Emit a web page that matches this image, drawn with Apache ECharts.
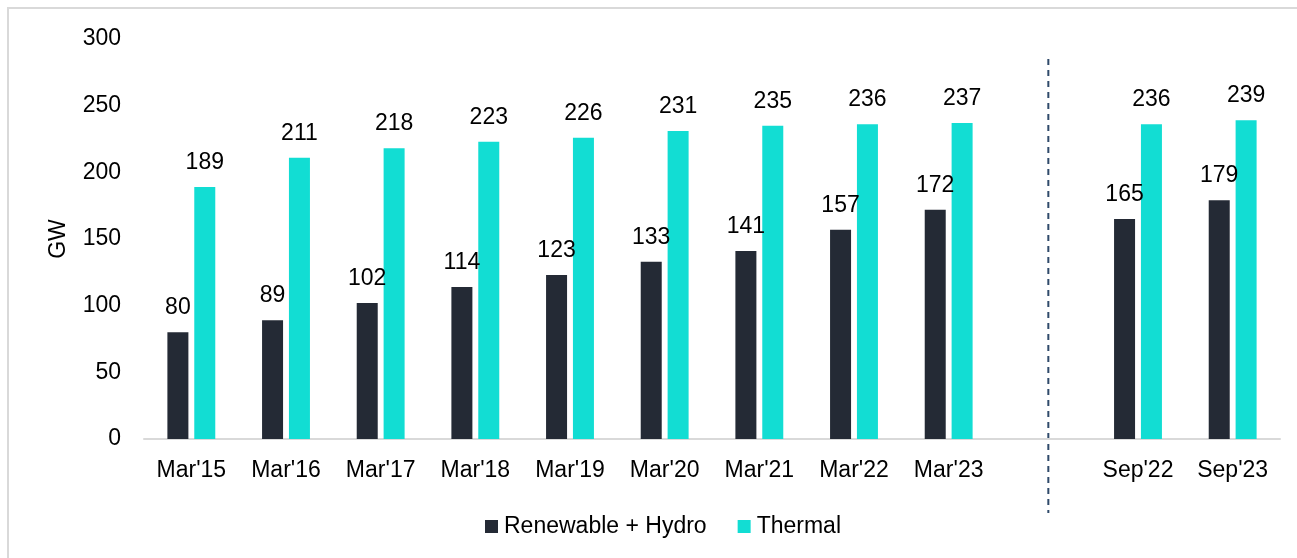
<!DOCTYPE html>
<html>
<head>
<meta charset="utf-8">
<script src="https://cdn.jsdelivr.net/npm/echarts@6/dist/echarts.min.js"></script>
<style>
html,body{margin:0;padding:0;background:#fff;}
#chart{width:1297px;height:558px;}
</style>
</head>
<body>
<div id="chart"></div>
<script>
const categories = ["Mar'15","Mar'16","Mar'17","Mar'18","Mar'19","Mar'20","Mar'21","Mar'22","Mar'23","","Sep'22","Sep'23"];
const renewableHydro = [80,89,102,114,123,133,141,157,172,null,165,179];
const thermal = [189,211,218,223,226,231,235,236,237,null,236,239];
const seriesNames = ["Renewable + Hydro","Thermal"];
const yTicks = {min:0,max:300,interval:50};
const separatorIndex = 9;

const FONT = "'Liberation Sans', Arial, sans-serif";
const chart = echarts.init(document.getElementById('chart'));
const labelCfg = {show:true, position:'top', distance:13, color:'#000', fontSize:23, fontFamily:FONT};

chart.setOption({
  animation:false,
  backgroundColor:'#fff',
  textStyle:{fontFamily:FONT},
  grid:{left:144,right:17,top:39,bottom:119},
  legend:{
    left:480, top:510, icon:'rect', itemWidth:13, itemHeight:13, itemGap:31,
    textStyle:{fontSize:23,color:'#000',fontFamily:FONT,padding:[0,0,0,1]},
    data:seriesNames
  },
  xAxis:{
    type:'category', data:categories,
    axisLine:{show:true,lineStyle:{color:'#d9d9d9',width:2}},
    axisTick:{show:false},
    axisLabel:{color:'#000',fontSize:23,fontFamily:FONT,margin:20,interval:0}
  },
  yAxis:{
    type:'value', min:yTicks.min, max:yTicks.max, interval:yTicks.interval,
    name:'GW', nameLocation:'middle', nameGap:74,
    nameTextStyle:{fontSize:23,color:'#000',fontFamily:FONT},
    axisLine:{show:false}, axisTick:{show:false}, splitLine:{show:false},
    axisLabel:{color:'#000',fontSize:23,fontFamily:FONT,margin:23}
  },
  series:[
    {name:seriesNames[0], type:'bar', data:renewableHydro, barWidth:21, barGap:'28%',
     itemStyle:{color:'#242a35'}, label:labelCfg},
    {name:seriesNames[1], type:'bar', data:thermal, barWidth:21, barGap:'28%',
     itemStyle:{color:'#12ddd3'}, label:labelCfg}
  ]
});

const sepX = chart.convertToPixel({xAxisIndex:0}, separatorIndex) + 5;
const topY = chart.convertToPixel({yAxisIndex:0}, 285);
const axisY = chart.convertToPixel({yAxisIndex:0}, 0);
chart.setOption({
  graphic:[
    {type:'rect', shape:{x:8,y:8,width:1310,height:600}, style:{fill:'none',stroke:'#d9d9d9',lineWidth:2}, silent:true},
    {type:'line', shape:{x1:sepX,y1:topY,x2:sepX,y2:axisY+74}, style:{stroke:'#2f4a6a',lineWidth:2,lineDash:[6,5]}, silent:true}
  ]
});
</script>
</body>
</html>
